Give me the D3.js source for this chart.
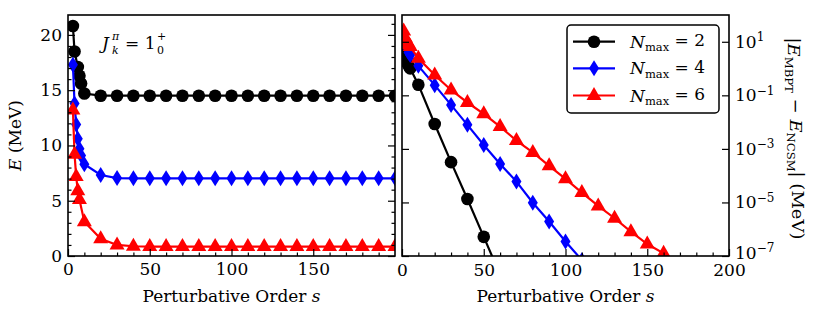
<!DOCTYPE html>
<html><head><meta charset="utf-8">
<script src="https://cdn.jsdelivr.net/npm/d3@7"></script>
<style>
body{margin:0;background:#fff}
svg{display:block}
</style>
</head><body>
<svg id="c" width="814" height="319"></svg>
<script>
// ---------- DATA ----------
const sBlackL = [3,4,6,7,8,10,20,30,40,50,60,70,80,90,100,110,120,130,140,150,160,170,180,190,200];
const eBlackL = [20.8,18.5,17.1,16.3,15.6,14.7,14.5,14.5,14.5,14.5,14.5,14.5,14.5,14.5,14.5,14.5,14.5,14.5,14.5,14.5,14.5,14.5,14.5,14.5,14.5];
const sBlueL  = [3,4,5,6,7,8,10,20,30,40,50,60,70,80,90,100,110,120,130,140,150,160,170,180,190,200];
const eBlueL  = [17.3,13.8,11.9,10.6,9.7,9.1,8.3,7.33,7.05,7.03,7.03,7.03,7.03,7.03,7.03,7.03,7.03,7.03,7.03,7.03,7.03,7.03,7.03,7.03,7.03,7.03];
const sRedL   = [3,4,5,6,7,10,20,30,40,50,60,70,80,90,100,110,120,130,140,150,160,170,180,190,200];
const eRedL   = [13.2,9.2,7.2,5.9,5.1,3.1,1.55,1.0,0.88,0.85,0.85,0.85,0.85,0.85,0.85,0.85,0.85,0.85,0.85,0.85,0.85,0.85,0.85,0.85,0.85];

const sBlackR = [1,2,3,4,5,10,20,30,40,50,60];
const dBlackR = [3.2,2.2,1.66,1.26,1.02,0.25,8.5e-3,3.2e-4,1.35e-5,5.2e-7,2.0e-8];
const sBlueR  = [1,2,3,4,5,10,20,30,40,50,60,70,80,90,100,110];
const dBlueR  = [20,10,6.3,4.0,3.2,1.26,0.24,0.044,7.9e-3,1.4e-3,2.75e-4,6.0e-5,9.8e-6,1.95e-6,3.5e-7,7.0e-8];
const sRedR   = [1,2,3,4,5,10,20,30,40,50,60,70,80,90,100,110,120,130,140,150,160,170];
const dRedR   = [25,14,10,7.9,6.6,2.4,0.575,0.158,0.054,0.0204,6.8e-3,2.04e-3,7.4e-4,2.34e-4,7.6e-5,2.34e-5,7.4e-6,2.57e-6,8.1e-7,2.8e-7,1.26e-7,4.0e-8];

const nmaxLabels = ["2","4","6"];
const colors = ["#000000","#0000ff","#ff0000"];
const xTicks = [0,50,100,150,200];
const xMinor = [10,20,30,40,60,70,80,90,110,120,130,140,160,170,180,190];
const yTicksL = [0,5,10,15,20];
const yMinorL = [1,2,3,4,6,7,8,9,11,12,13,14,16,17,18,19,21];
const yTicksR = [1e1,1e-1,1e-3,1e-5,1e-7];
const yTickExpR = ["1","\u22121","\u22123","\u22125","\u22127"];

// ---------- LAYOUT ----------
const FONT = '"DejaVu Serif","Liberation Serif","Noto Serif","Times New Roman",serif';
const svg = d3.select("#c");
const yTop = 15, yBot = 256;
const L = {x0:68, x1:395}, R = {x0:402, x1:729};

const xL = d3.scaleLinear().domain([0,200]).range([L.x0,L.x1]);
const xR = d3.scaleLinear().domain([0,200]).range([R.x0,R.x1]);
const yL = d3.scaleLinear().domain([0,21.8]).range([yBot,yTop]);
const yR = d3.scaleLog().domain([1e-7,1e2]).range([yBot,yTop]);

const defs = svg.append("defs");
defs.append("clipPath").attr("id","clipL").append("rect")
  .attr("x",L.x0).attr("y",yTop).attr("width",L.x1-L.x0).attr("height",yBot-yTop);
defs.append("clipPath").attr("id","clipR").append("rect")
  .attr("x",R.x0).attr("y",yTop).attr("width",R.x1-R.x0).attr("height",yBot-yTop);

const circle = d3.symbol().type(d3.symbolCircle).size(Math.PI*6.3*6.3);
function markerPath(kind){
  if(kind===0) return circle();
  if(kind===1) return "M0,-8L5,0L0,8L-5,0Z";
  return "M0,-8.5L7.5,4.5L-7.5,4.5Z";
}

function drawSeries(g, xs, ys, sArr, vArr, color, kind){
  const pts = sArr.map((s,i)=>[xs(s), ys(vArr[i])]);
  g.append("path").attr("d", d3.line()(pts))
    .attr("fill","none").attr("stroke",color).attr("stroke-width",2.2);
  g.selectAll(null).data(pts).enter().append("path")
    .attr("d", markerPath(kind))
    .attr("transform", d=>`translate(${d[0]},${d[1]})`)
    .attr("fill", color);
}

const gL = svg.append("g").attr("clip-path","url(#clipL)");
drawSeries(gL, xL, yL, sBlackL, eBlackL, colors[0], 0);
drawSeries(gL, xL, yL, sBlueL, eBlueL, colors[1], 1);
drawSeries(gL, xL, yL, sRedL, eRedL, colors[2], 2);

const gR = svg.append("g").attr("clip-path","url(#clipR)");
drawSeries(gR, xR, yR, sBlackR, dBlackR, colors[0], 0);
drawSeries(gR, xR, yR, sBlueR, dBlueR, colors[1], 1);
drawSeries(gR, xR, yR, sRedR, dRedR, colors[2], 2);

function styleAxis(g){
  g.attr("font-family",FONT).attr("font-size",17);
  g.select(".domain").remove();
  g.selectAll("line").attr("stroke","#000").attr("stroke-width",1.2);
  g.selectAll("text").attr("font-size",17).attr("font-family",FONT).attr("fill","#000");
}
svg.append("g").attr("transform",`translate(0,${yBot})`)
  .call(d3.axisBottom(xL).tickValues(xTicks.slice(0,4)).tickSize(-7).tickPadding(7).tickFormat(d3.format("d")))
  .call(styleAxis);
svg.append("g").attr("transform",`translate(0,${yBot})`)
  .call(d3.axisBottom(xL).tickValues(xMinor).tickSize(-3.5).tickFormat(""))
  .call(styleAxis);
svg.append("g").attr("transform",`translate(0,${yBot})`)
  .call(d3.axisBottom(xR).tickValues(xTicks).tickSize(-7).tickPadding(8).tickFormat(d3.format("d")))
  .call(styleAxis);
svg.append("g").attr("transform",`translate(0,${yBot})`)
  .call(d3.axisBottom(xR).tickValues(xMinor).tickSize(-3.5).tickFormat(""))
  .call(styleAxis);
svg.append("g").attr("transform",`translate(${L.x0},0)`)
  .call(d3.axisLeft(yL).tickValues(yTicksL).tickSize(-7).tickPadding(6).tickFormat(d3.format("d")))
  .call(styleAxis);
svg.append("g").attr("transform",`translate(${L.x0},0)`)
  .call(d3.axisLeft(yL).tickValues(yMinorL).tickSize(-3.5).tickFormat(""))
  .call(styleAxis);
svg.append("g").attr("transform",`translate(${L.x1},0)`)
  .call(d3.axisRight(yL).tickValues(yTicksL).tickSize(-7).tickFormat(""))
  .call(styleAxis);
svg.append("g").attr("transform",`translate(${L.x1},0)`)
  .call(d3.axisRight(yL).tickValues(yMinorL).tickSize(-3.5).tickFormat(""))
  .call(styleAxis);
svg.append("g").attr("transform",`translate(${R.x0},0)`)
  .call(d3.axisLeft(yR).tickValues(yTicksR).tickSize(-7).tickFormat(""))
  .call(styleAxis);
const ayR = svg.append("g").attr("transform",`translate(${R.x1},0)`)
  .call(d3.axisRight(yR).tickValues(yTicksR).tickSize(-7).tickPadding(6).tickFormat(""))
  .call(styleAxis);
ayR.selectAll(".tick").each(function(d,i){
  const t = d3.select(this).select("text").attr("dy", i===4 ? "0.15em" : "0.32em").attr("x",6);
  t.append("tspan").text("10");
  t.append("tspan").attr("dy","-0.55em").attr("font-size",12).text(yTickExpR[i]);
});

[L,R].forEach(p=>{
  svg.append("rect").attr("x",p.x0).attr("y",yTop).attr("width",p.x1-p.x0).attr("height",yBot-yTop)
    .attr("fill","none").attr("stroke","#000").attr("stroke-width",1.6);
});

const fs = 17;
function txt(sel){ return sel.attr("font-family",FONT).attr("fill","#000"); }
[L,R].forEach(p=>{
  svg.append("text").call(txt).attr("x",(p.x0+p.x1)/2).attr("y",302).attr("text-anchor","middle")
    .attr("font-size",fs).attr("textLength",178).attr("lengthAdjust","spacingAndGlyphs")
    .call(t=>{t.append("tspan").text("Perturbative Order ");t.append("tspan").attr("font-style","italic").text("s");});
});

svg.append("text").call(txt).attr("transform",`translate(21,${(yTop+yBot)/2}) rotate(-90)`)
  .attr("text-anchor","middle").attr("font-size",fs)
  .call(t=>{t.append("tspan").attr("font-style","italic").text("E");t.append("tspan").text(" (MeV)");});

const rl = svg.append("text").call(txt).attr("transform",`translate(788,${(yTop+yBot)/2+3}) rotate(90)`)
  .attr("text-anchor","middle").attr("font-size",fs).attr("textLength",202).attr("lengthAdjust","spacingAndGlyphs");
rl.append("tspan").text("|");
rl.append("tspan").attr("font-style","italic").text("E");
rl.append("tspan").attr("font-size",11).attr("dy","0.3em").text("MBPT");
rl.append("tspan").attr("dy","-0.3em").text(" \u2212 ");
rl.append("tspan").attr("font-style","italic").text("E");
rl.append("tspan").attr("font-size",11).attr("dy","0.3em").text("NCSM");
rl.append("tspan").attr("dy","-0.3em").text("| (MeV)");

// annotation J^pi_k = 1^+_0
const ax0 = 102, ab = 49;
svg.append("text").call(txt).attr("x",ax0).attr("y",ab).attr("font-size",fs).attr("font-style","italic").text("J");
svg.append("text").call(txt).attr("x",ax0+10).attr("y",ab-9).attr("font-size",11).attr("font-style","italic").text("\u03c0");
svg.append("text").call(txt).attr("x",ax0+10).attr("y",ab+5).attr("font-size",11).attr("font-style","italic").text("k");
svg.append("text").call(txt).attr("x",ax0+23).attr("y",ab).attr("font-size",fs).text("= 1");
svg.append("text").call(txt).attr("x",ax0+55).attr("y",ab-9).attr("font-size",11).text("+");
svg.append("text").call(txt).attr("x",ax0+55).attr("y",ab+5).attr("font-size",11).text("0");

const lg = svg.append("g");
lg.append("rect").attr("x",567).attr("y",25).attr("width",152).attr("height",88).attr("rx",4)
  .attr("fill","#fff").attr("stroke","#000").attr("stroke-width",1.5);
const rowY = [41.7,68.3,95.5];
nmaxLabels.forEach((n,i)=>{
  lg.append("line").attr("x1",573).attr("x2",615).attr("y1",rowY[i]).attr("y2",rowY[i])
    .attr("stroke",colors[i]).attr("stroke-width",2.2);
  lg.append("path").attr("d",markerPath(i)).attr("transform",`translate(594,${rowY[i]})`).attr("fill",colors[i]);
  const t = lg.append("text").call(txt).attr("x",630).attr("y",rowY[i]+6).attr("font-size",fs);
  t.append("tspan").attr("font-style","italic").text("N");
  t.append("tspan").attr("font-size",11.5).attr("dy","0.3em").text("max");
  t.append("tspan").attr("dy","-0.3em").text(" = "+n);
});
</script>
</body></html>
